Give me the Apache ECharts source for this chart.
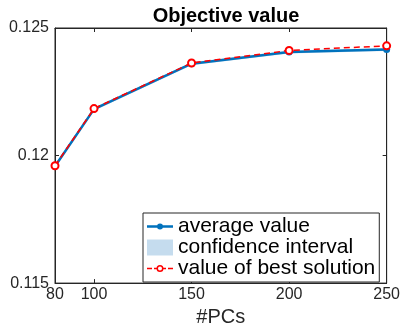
<!DOCTYPE html>
<html><head><meta charset="utf-8">
<script src="https://cdn.jsdelivr.net/npm/echarts@6/dist/echarts.min.js"></script>
<style>html,body{margin:0;padding:0;background:#fff}#c{width:403px;height:332px}</style>
</head><body><div id="c"></div>
<script>
const pcs = [80, 100, 150, 200, 250];
const avgValue = [0.11958, 0.12182, 0.12360, 0.12406, 0.12416];
const bestValue = [0.11960, 0.12184, 0.12363, 0.12412, 0.12430];
const ciLower = [0.11952, 0.12176, 0.12354, 0.12400, 0.12410];
const ciUpper = [0.11964, 0.12188, 0.12366, 0.12412, 0.12422];
const xTicks = [80, 100, 150, 200, 250];

const font = 'Liberation Sans, Arial, sans-serif';
const axisCol = '#262626';
const blue = '#0072BD';
const red = '#ff0000';
const band = '#c5dcee';

const avgIcon = 'path://M0,5.75h26v2.5h-26z M10,7a3,3 0 1,1 6,0a3,3 0 1,1 -6,0z';
const bestIcon = 'path://M0,6.25h5v1.5h-5z M7,6.25h3v1.5h-3z M16,6.25h3v1.5h-3z M21,6.25h5v1.5h-5z ' +
  'M9.5,7a3.5,3.5 0 1,1 7,0a3.5,3.5 0 1,1 -7,0z M11,7a2,2 0 1,0 4,0a2,2 0 1,0 -4,0z';

const chart = echarts.init(document.getElementById('c'));
chart.setOption({
  animation: false,
  title: { text: 'Objective value', left: 221, textAlign: 'center', top: 1,
    textStyle: { fontFamily: font, fontSize: 20, fontWeight: 'bold', color: '#000' } },
  grid: { left: 55, right: 16, top: 28, bottom: 44, show: true, borderColor: axisCol, borderWidth: 1 },
  legend: {
    orient: 'vertical', left: 143, top: 213,
    backgroundColor: '#fff', borderColor: axisCol, borderWidth: 1,
    padding: [3, 4, 3, 4], itemGap: 0, itemWidth: 26, itemHeight: 16,
    textStyle: { fontFamily: font, fontSize: 21, lineHeight: 20, color: '#000' },
    data: [
      { name: 'average value', icon: avgIcon, itemStyle: { color: blue, borderWidth: 0 } },
      { name: 'confidence interval', icon: 'rect', itemStyle: { color: band, borderWidth: 0 } },
      { name: 'value of best solution', icon: bestIcon, itemStyle: { color: red, borderWidth: 0 } }
    ]
  },
  xAxis: [{
    type: 'value', min: 80, max: 250, position: 'bottom',
    name: '#PCs', nameLocation: 'middle', nameGap: 22,
    nameTextStyle: { fontFamily: font, fontSize: 20, color: axisCol },
    axisLine: { show: true, onZero: false, lineStyle: { color: axisCol } },
    axisTick: { show: true, inside: true, length: 4, customValues: xTicks, lineStyle: { color: axisCol } },
    axisLabel: { customValues: xTicks, fontFamily: font, fontSize: 16, color: axisCol, margin: 3 },
    splitLine: { show: false }
  }, {
    type: 'value', min: 80, max: 250, position: 'top',
    axisLine: { show: true, onZero: false, lineStyle: { color: axisCol } },
    axisTick: { show: true, inside: true, length: 4, customValues: xTicks, lineStyle: { color: axisCol } },
    axisLabel: { show: false }, splitLine: { show: false }
  }],
  yAxis: [{
    type: 'value', min: 0.115, max: 0.125, interval: 0.005, position: 'left',
    axisLine: { show: true, onZero: false, lineStyle: { color: axisCol } },
    axisTick: { show: true, inside: true, length: 4, lineStyle: { color: axisCol } },
    axisLabel: { fontFamily: font, fontSize: 16, color: axisCol, margin: 6,
      formatter: v => String(parseFloat(v.toFixed(4))) },
    splitLine: { show: false }
  }, {
    type: 'value', min: 0.115, max: 0.125, interval: 0.005, position: 'right',
    axisLine: { show: true, onZero: false, lineStyle: { color: axisCol } },
    axisTick: { show: true, inside: true, length: 4, lineStyle: { color: axisCol } },
    axisLabel: { show: false }, splitLine: { show: false }
  }],
  series: [
    { name: 'confidence interval', type: 'custom', silent: true,
      itemStyle: { color: band },
      data: pcs.map((x, i) => [x, ciLower[i], ciUpper[i]]),
      encode: { x: 0, y: [1, 2] },
      renderItem: function (params, api) {
        if (params.dataIndex !== 0) return null;
        const pts = [];
        for (let i = 0; i < pcs.length; i++) pts.push(api.coord([pcs[i], ciUpper[i]]));
        for (let i = pcs.length - 1; i >= 0; i--) pts.push(api.coord([pcs[i], ciLower[i]]));
        return { type: 'polygon', shape: { points: pts }, style: { fill: band } };
      } },
    { name: 'average value', type: 'line', symbol: 'circle', symbolSize: 7,
      data: pcs.map((x, i) => [x, avgValue[i]]),
      itemStyle: { color: blue }, lineStyle: { color: blue, width: 2.5 } },
    { name: 'value of best solution', type: 'line', symbol: 'emptyCircle', symbolSize: 7,
      data: pcs.map((x, i) => [x, bestValue[i]]),
      itemStyle: { color: red, borderColor: red, borderWidth: 2.5 },
      lineStyle: { color: red, width: 1.5, type: [6, 4] } }
  ]
});
</script></body></html>
